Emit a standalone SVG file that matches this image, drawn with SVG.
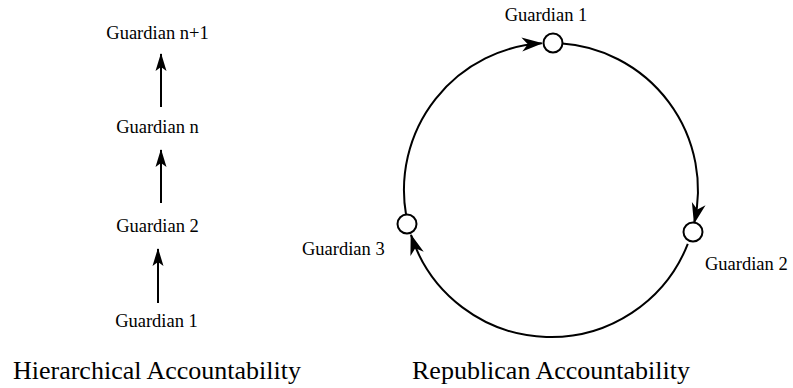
<svg xmlns="http://www.w3.org/2000/svg" width="793" height="388" viewBox="0 0 793 388">
<style>
text{font-family:'Liberation Serif',Tinos,'Times New Roman',Times,'DejaVu Serif',serif;fill:#000}
.lbl{font-size:18.5px}
.ttl{font-size:26px}
.edge{fill:none;stroke:#000;stroke-width:2}
.node{fill:#fff;stroke:#000;stroke-width:2}
</style>
<defs>
<marker id="ah" markerUnits="userSpaceOnUse" markerWidth="30" markerHeight="30" refX="0" refY="0" orient="auto" overflow="visible">
<path d="M1,0 L-17,-5.5 L-13,0 L-17,5.5 Z" fill="#000"/>
</marker>
<marker id="ahc" markerUnits="userSpaceOnUse" markerWidth="30" markerHeight="30" refX="0" refY="0" orient="auto" overflow="visible">
<path d="M1,0 L-20,-7 L-14,0 L-20,7 Z" fill="#000"/>
</marker>
</defs>
<rect width="793" height="388" fill="#fff"/>
<g id="hier-nodes">
<g id="h1"><text class="lbl" x="156.5" y="327" text-anchor="middle">Guardian 1</text></g>
<g id="h2"><text class="lbl" x="157.5" y="232" text-anchor="middle">Guardian 2</text></g>
<g id="hn"><text class="lbl" x="157.5" y="133" text-anchor="middle">Guardian n</text></g>
<g id="hn1"><text class="lbl" x="157.5" y="39" text-anchor="middle">Guardian n+1</text></g>
</g>
<g id="connectors">
<line class="edge" x1="158" y1="303" x2="158" y2="249" marker-end="url(#ah)"/>
<line class="edge" x1="161" y1="203" x2="161" y2="150" marker-end="url(#ah)"/>
<line class="edge" x1="161" y1="107" x2="161" y2="54" marker-end="url(#ah)"/>
<path class="edge" d="M406.1,215 A147,147 0 0 1 541.8,43.3" marker-end="url(#ahc)"/>
<path class="edge" d="M560,43.3 A147,147 0 0 1 694.2,223.1" marker-end="url(#ahc)"/>
<path class="edge" d="M687.8,243.9 A147,147 0 0 1 411,234.9" marker-end="url(#ahc)"/>
</g>
<g id="r1"><circle class="node" cx="553" cy="43" r="9.5"/><text class="lbl" x="546" y="21" text-anchor="middle">Guardian 1</text></g>
<g id="r2"><circle class="node" cx="693" cy="232" r="9.5"/><text class="lbl" x="705" y="270">Guardian 2</text></g>
<g id="r3"><circle class="node" cx="407" cy="224" r="9.5"/><text class="lbl" x="302" y="255">Guardian 3</text></g>
<g id="titles">
<text class="ttl" x="157" y="378.5" text-anchor="middle">Hierarchical Accountability</text>
<text class="ttl" x="551" y="378.5" text-anchor="middle">Republican Accountability</text>
</g>
</svg>
